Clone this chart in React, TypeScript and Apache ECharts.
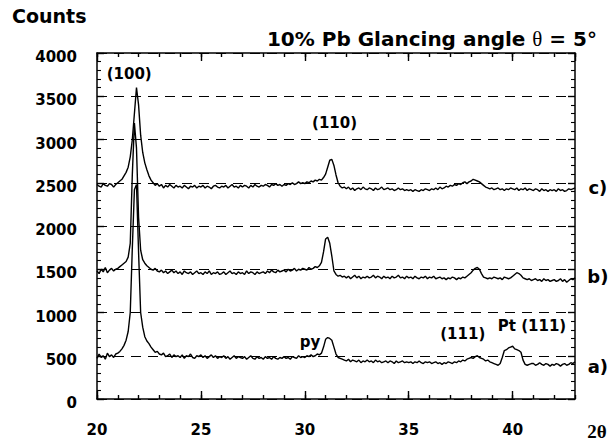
import { useEffect, useRef } from "react";
import * as echarts from "echarts";

// 2θ grid of the scan (degrees)
const angleStart = 20;
const angleStep = 0.1;

// Trace a) counts, 20.0° … 43.0° every 0.1°
const countsA = [
  470, 520, 480, 500, 460, 530, 490, 510, 480, 520,
  530, 550, 580, 620, 680, 780, 1000, 1750, 2420, 2480,
  1700, 1000, 830, 720, 670, 640, 600, 570, 540, 550,
  520, 510, 530, 490, 500, 520, 480, 510, 490, 500,
  480, 510, 470, 500, 490, 520, 480, 470, 500, 490,
  510, 480, 500, 470, 490, 510, 480, 500, 470, 490,
  480, 500, 470, 490, 460, 480, 500, 470, 490, 480,
  470, 490, 460, 480, 500, 470, 460, 490, 470, 480,
  460, 490, 470, 480, 460, 490, 470, 460, 480, 470,
  490, 470, 480, 460, 490, 480, 470, 500, 480, 490,
  480, 500, 490, 510, 490, 500, 520, 510, 530, 600,
  690, 710, 700, 680, 600, 520, 480, 470, 460, 450,
  440, 460, 430, 450, 440, 430, 450, 420, 440, 430,
  450, 430, 440, 420, 450, 430, 440, 420, 430, 440,
  420, 440, 430, 410, 440, 420, 430, 440, 420, 430,
  420, 430, 410, 430, 420, 440, 420, 410, 430, 420,
  430, 410, 420, 430, 410, 420, 400, 420, 410, 430,
  420, 410, 430, 420, 440, 430, 450, 440, 460, 470,
  480, 470, 490, 500, 480, 470, 460, 440, 450, 430,
  420, 410, 400, 390, 410, 480, 560, 570, 590, 600,
  610, 580, 570, 560, 540, 450, 400, 390, 400, 410,
  410, 390, 400, 420, 400, 390, 410, 400, 380, 400,
  390, 410, 400, 380, 400, 410, 390, 400, 420, 410,
  430,
];

// Trace b) counts
const countsB = [
  1480, 1450, 1500, 1470, 1520, 1460, 1490, 1510, 1480, 1500,
  1510, 1530, 1550, 1570, 1590, 1640, 1800, 2600, 3190, 2900,
  2100, 1720, 1610, 1570, 1540, 1520, 1500, 1490, 1510, 1480,
  1470, 1490, 1460, 1480, 1450, 1470, 1490, 1460, 1480, 1450,
  1470, 1440, 1480, 1460, 1450, 1470, 1440, 1460, 1480, 1450,
  1460, 1440, 1470, 1450, 1480, 1440, 1460, 1450, 1470, 1440,
  1450, 1470, 1440, 1460, 1480, 1450, 1460, 1440, 1470, 1450,
  1460, 1440, 1480, 1450, 1470, 1460, 1440, 1470, 1450, 1460,
  1470, 1450, 1480, 1460, 1490, 1470, 1460, 1490, 1470, 1480,
  1490, 1470, 1500, 1480, 1490, 1510, 1480, 1500, 1490, 1510,
  1500, 1490, 1520, 1500, 1510, 1530, 1520, 1540, 1580, 1700,
  1850, 1870, 1800, 1650, 1480, 1440, 1420, 1430, 1410, 1420,
  1400, 1420, 1390, 1410, 1430, 1400, 1420, 1390, 1410, 1400,
  1420, 1400, 1410, 1430, 1400, 1420, 1410, 1390, 1420, 1400,
  1410, 1390, 1420, 1400, 1410, 1430, 1400, 1410, 1390, 1420,
  1400, 1410, 1390, 1420, 1400, 1390, 1410, 1400, 1420, 1390,
  1410, 1400, 1420, 1390, 1400, 1410, 1390, 1400, 1380, 1400,
  1390, 1410, 1400, 1380, 1400, 1390, 1410, 1400, 1420, 1440,
  1460, 1490, 1510, 1520, 1500, 1450, 1410, 1400, 1390, 1400,
  1390, 1410, 1400, 1390, 1400, 1380, 1410, 1400, 1390, 1400,
  1420, 1440, 1460, 1450, 1430, 1400, 1390, 1380, 1390, 1370,
  1380, 1390, 1370, 1380, 1360, 1390, 1370, 1380, 1360, 1370,
  1380, 1360, 1370, 1390, 1360, 1380, 1350, 1370, 1390, 1380,
  1400,
];

// Trace c) counts
const countsC = [
  2480, 2460, 2450, 2490, 2470, 2460, 2490, 2480, 2450, 2480,
  2500, 2520, 2540, 2580, 2620, 2680, 2800, 3000, 3300, 3600,
  3400, 3050, 2850, 2730, 2650, 2580, 2530, 2500, 2470, 2490,
  2460, 2480, 2440, 2470, 2450, 2480, 2460, 2440, 2470, 2450,
  2460, 2440, 2470, 2450, 2430, 2460, 2450, 2470, 2440, 2460,
  2450, 2470, 2440, 2460, 2450, 2430, 2460, 2470, 2450, 2440,
  2460, 2450, 2470, 2440, 2460, 2480, 2450, 2460, 2440, 2470,
  2450, 2470, 2460, 2440, 2470, 2450, 2480, 2460, 2450, 2470,
  2460, 2480, 2470, 2450, 2480, 2470, 2490, 2470, 2480, 2460,
  2480, 2470, 2490, 2480, 2500, 2480, 2490, 2510, 2490, 2500,
  2490, 2510, 2500, 2520, 2510, 2530, 2520, 2540, 2530, 2560,
  2600, 2680, 2760, 2770, 2700, 2590, 2500, 2460, 2440, 2450,
  2430, 2450, 2420, 2440, 2410, 2430, 2440, 2420, 2450, 2430,
  2420, 2440, 2430, 2410, 2440, 2420, 2430, 2450, 2420, 2430,
  2440, 2420, 2430, 2410, 2420, 2440, 2420, 2430, 2410, 2420,
  2410, 2420, 2400, 2420, 2410, 2400, 2420, 2410, 2430, 2420,
  2410, 2430, 2420, 2440, 2420, 2450, 2430, 2440, 2460, 2450,
  2470, 2460, 2480, 2470, 2490, 2480, 2500, 2510, 2490, 2510,
  2520, 2540, 2530, 2520, 2510, 2490, 2470, 2450, 2440, 2430,
  2440, 2420, 2430, 2440, 2420, 2430, 2410, 2430, 2420, 2440,
  2430, 2420, 2440, 2410, 2430, 2420, 2440, 2410, 2430, 2420,
  2410, 2430, 2420, 2400, 2430, 2410, 2420, 2400, 2420, 2410,
  2420, 2400, 2430, 2410, 2420, 2400, 2410, 2430, 2420, 2430,
  2440,
];

const xMin = 20;
const xMax = 43;
const xMajor = 5;
const xMinor = 1;
const yMin = 0;
const yMax = 4000;
const yMajor = 500;

// Peak annotations, anchored in data coordinates (2θ, counts)
const annotations = [
  { text: "(100)", angle: 21.55, counts: 3760 },
  { text: "(110)", angle: 31.43, counts: 3190 },
  { text: "py", angle: 30.25, counts: 660 },
  { text: "(111)", angle: 37.6, counts: 750 },
  { text: "Pt (111)", angle: 40.93, counts: 840 },
];

const traceLabels = [
  { text: "c)", angle: 44.1, counts: 2450 },
  { text: "b)", angle: 44.1, counts: 1420 },
  { text: "a)", angle: 44.1, counts: 370 },
];

const toPairs = (values: number[]) =>
  values.map((v, i) => [Math.round((angleStart + i * angleStep) * 10) / 10, v]);

const SANS = "'DejaVu Sans', Verdana, sans-serif";
const SERIF = "'Liberation Serif', 'Times New Roman', serif";

export default function App() {
  const ref = useRef<HTMLDivElement>(null);

  useEffect(() => {
    const chart = echarts.init(ref.current!, null, { renderer: "svg" });
    const lineStyle = { color: "#000", width: 1.5 };
    const baseX = (position: string, interval: number, tickLen: number, withLine: boolean, labels: boolean) => ({
      type: "value",
      position,
      min: xMin,
      max: xMax,
      interval,
      axisLine: { show: withLine, onZero: false, lineStyle },
      axisTick: { show: true, inside: true, length: tickLen, lineStyle: { color: "#000", width: 1.4 } },
      axisLabel: {
        show: labels,
        showMaxLabel: false,
        margin: 23,
        color: "#000",
        fontFamily: SANS,
        fontWeight: "bold",
        fontSize: 15,
      },
      splitLine: { show: false },
    });
    const baseY = (position: string, labels: boolean, split: boolean) => ({
      type: "value",
      position,
      min: yMin,
      max: yMax,
      interval: yMajor,
      axisLine: { show: true, onZero: false, lineStyle },
      axisTick: { show: true, inside: true, length: 7, lineStyle: { color: "#000", width: 1.4 } },
      minorTick: { show: true, splitNumber: 5, length: 4, lineStyle: { color: "#000", width: 1.1 } },
      axisLabel: {
        show: labels,
        margin: 20,
        verticalAlign: "top",
        lineHeight: 8,
        color: "#000",
        fontFamily: SANS,
        fontWeight: "bold",
        fontSize: 15,
        formatter: (v: number) => String(v),
      },
      splitLine: {
        show: split,
        lineStyle: { color: "#000", width: 1.2, type: [10, 7] },
      },
    });

    const mkSeries = (name: string, values: number[]) => ({
      name,
      type: "line",
      xAxisIndex: 0,
      yAxisIndex: 0,
      data: toPairs(values),
      showSymbol: false,
      symbol: "none",
      lineStyle: { color: "#000", width: 1.4 },
      z: 5,
    });

    chart.setOption({
      animation: false,
      backgroundColor: "#fff",
      grid: { left: 97, right: 37, top: 53, bottom: 45, containLabel: false },
      xAxis: [
        baseX("bottom", xMajor, 8, true, true),
        baseX("top", xMajor, 8, true, false),
        baseX("bottom", xMinor, 4, false, false),
        baseX("top", xMinor, 4, false, false),
      ],
      yAxis: [baseY("left", true, true), baseY("right", false, false)],
      series: [
        mkSeries("a)", countsA),
        mkSeries("b)", countsB),
        mkSeries("c)", countsC),
      ],
    });

    const toPx = (a: number, c: number) =>
      chart.convertToPixel({ seriesIndex: 0 }, [a, c]) as number[];

    const graphic: any[] = [
      {
        type: "text",
        x: 12,
        y: 16,
        style: {
          text: "Counts",
          fill: "#000",
          font: `bold 19px ${SANS}`,
          align: "left",
          verticalAlign: "middle",
        },
      },
      {
        type: "text",
        x: 597,
        y: 39,
        style: {
          text: "{a|10% Pb Glancing angle }{t|θ}{a| = 5°}",
          fill: "#000",
          align: "right",
          verticalAlign: "middle",
          rich: {
            a: { font: `bold 20px ${SANS}`, fill: "#000" },
            t: { font: `21px ${SERIF}`, fill: "#000" },
          },
        },
      },
      {
        type: "text",
        x: 597,
        y: 431,
        style: {
          text: "2θ",
          fill: "#000",
          font: `bold 19px ${SERIF}`,
          align: "center",
          verticalAlign: "middle",
        },
      },
    ];
    annotations.forEach((a) => {
      const [px, py] = toPx(a.angle, a.counts);
      graphic.push({
        type: "text",
        x: px,
        y: py,
        z: 10,
        style: {
          text: a.text,
          fill: "#000",
          font: `bold 15px ${SANS}`,
          align: "center",
          verticalAlign: "middle",
        },
      });
    });
    traceLabels.forEach((a) => {
      const [px, py] = toPx(a.angle, a.counts);
      graphic.push({
        type: "text",
        x: px,
        y: py,
        style: {
          text: a.text,
          fill: "#000",
          font: `bold 18px ${SANS}`,
          align: "center",
          verticalAlign: "middle",
        },
      });
    });
    chart.setOption({ graphic });

    return () => chart.dispose();
  }, []);

  return (
    <div
      ref={ref}
      style={{ position: "fixed", left: 0, top: 0, width: 612, height: 444, background: "#fff" }}
    />
  );
}
